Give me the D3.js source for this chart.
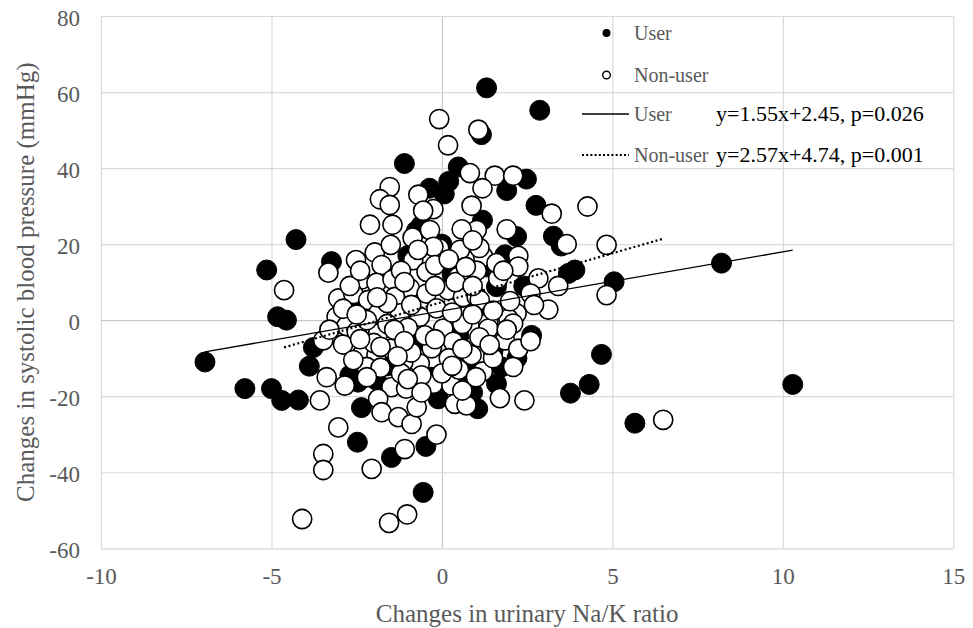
<!DOCTYPE html>
<html>
<head>
<meta charset="utf-8">
<script src="https://cdn.jsdelivr.net/npm/d3@7"></script>
<style>
  body { margin: 0; background: #fff; }
  text { font-family: "Liberation Serif", "Times New Roman", serif; }
</style>
</head>
<body>
<svg></svg>
<script>
// change in Na/K ratio vs change in SBP
var userPoints = [
  [-6.95,-11],[-5.78,-18],[-5.0,-18],[-4.70,-21.1],[-4.21,-21],[-5.14,13.2],[-4.28,21.2],
  [-4.82,0.9],[-4.56,0],[-3.77,-7.2],[-3.89,-12.1],[-3.24,15.4],[-2.4,4.4],[-2.46,-16.3],
  [-1.92,-15.8],[-2.36,-23],[-2.48,-32.1],[-1.48,-36.1],[-0.47,-33.2],[-0.55,-45.3],
  [-0.11,-20.7],[0.77,-16.3],[1.6,-16.7],[1.05,-23.3],[0.72,-11.4],[1.75,-12.3],[2.63,-4],
  [1.6,8.8],[1.85,17.2],[1.19,26.3],[2.19,22],[3.27,22.1],[3.71,12.3],[3.9,13.2],[3.5,19.5],
  [5.05,10.1],[8.2,15],[4.68,-9],[4.32,-16.9],[3.77,-19.2],[5.66,-27.1],[10.29,-16.9],
  [2.76,30.2],[2.48,37.1],[1.9,34.1],[0.48,40.3],[0.2,36.5],[0.07,33.2],[-0.36,34.7],
  [-1.1,41.2],[1.31,61.1],[2.87,55.2],[1.16,48.8],[-0.75,23.5],
  [-1.6,-12],[-0.8,-6],[0.5,-4],[-2.0,-11],[1.0,3],[0.3,12],[-1.0,17],[1.5,-8],[2.2,-10],
  [-2.7,-14.5],[0.9,-19],[-0.3,-15],[-2.9,-1],[0.0,20],[1.3,14],[-0.6,25],[2.4,9],[-1.5,-2]
];

var nonUserPoints = [
  [-0.08,52.9],[0.18,46],[1.07,50.1],[0.82,38.7],[1.55,38],[2.09,38],[1.19,34.7],[-0.69,33],
  [-1.53,35],[-1.82,31.8],[-1.53,30.3],[-0.25,29.2],[-0.55,28.8],[0.87,30.1],[3.22,28],
  [4.27,29.9],[1.9,23.9],[-2.11,25.1],[-1.45,25.1],[1.02,23.7],[0.58,23.9],[-0.86,21.7],
  [-0.35,23.7],[-0.08,18.9],[0.53,18.5],[-2.52,15.8],[-1.97,17.8],[-1.5,19.8],[-3.33,12.5],
  [-4.63,7.9],[3.66,20],[4.83,19.8],[2.24,16.9],[2.24,14.1],[1.21,16.7],[1.65,11],[1.02,13],
  [0.48,11.4],[2.83,11],[3.41,9],[3.12,2.8],[4.83,6.6],[-0.84,15.8],[-1.77,14.5],[-2.36,10.7],
  [-1.92,9.8],[-1.45,10.7],[-0.94,8.4],[-0.45,12.7],[-0.25,19.3],[-3.04,5.7],[-2.6,6.9],
  [-2.16,5.3],[-1.38,6.1],[-0.45,7],[-3.09,0.9],[-1.87,1.8],[-0.65,0.9],[-0.16,3.1],[0.18,7.9],
  [0.62,6.1],[1.02,6.1],[1.11,5.3],[2.19,1.8],[1.95,0.4],[1.36,-0.7],[2.09,-0.9],[1.36,-2.2],
  [0.04,-2.2],[-1.23,1.8],[-1.87,-3.5],[-1.23,-4],[-3.48,-5.3],[-2.9,-6.4],[-2.36,-9.2],
  [-1.92,-9.2],[-0.65,-11.4],[-0.3,-7.4],[0.33,-5.7],[0.87,-9.2],[1.85,-5.3],[2.24,-7.5],
  [2.09,-12.3],[-3.38,-15],[-2.85,-17.2],[-1.48,-17.6],[-1.05,-18],[-0.25,-16.7],[0.28,-17.2],
  [1.7,-20.5],[2.42,-21.1],[-3.58,-21.1],[-1.87,-20.7],[-1.77,-24.2],[-1.28,-25.5],[-0.89,-27.3],
  [-0.74,-22.9],[0.38,-22],[0.72,-22.4],[-3.04,-28.2],[-3.48,-35.2],[-3.48,-39.4],[-2.06,-39.1],
  [-1.09,-33.9],[-0.16,-30.1],[-1.55,-53.3],[-1.02,-51.1],[-4.1,-52.3],[6.49,-26.2],[-1.13,-11],
  [-2.21,-12.3],
  [-2.8,-1.5],[-2.5,-3],[-2.2,0],[-1.6,-1],[-1.0,-2],[-0.5,-4],[0.6,-1],[0.9,1.5],[1.5,2.5],
  [0.3,2],[-0.9,4],[-1.6,4.5],[-2.0,-6],[-1.5,-7.5],[-0.9,-8.5],[0.2,-10],[0.5,-13],[1.2,-13.5],
  [1.5,-10],[-1.2,-14],[-0.6,-14.5],[-1.8,-12.5],[0.0,-14],[0.4,10],[0.9,9],[-0.2,14.5],[1.6,15],
  [0.2,16],[-1.2,13],[2.0,5],[2.6,7],[1.1,19],[-2.7,9],[-0.6,-19],[0.6,-18.5],[1.1,-4.5],
  [-2.6,-10.5],[-1.4,-2.5],
  [-2.4,-5],[-1.8,-7],[-1.1,-5.5],[-0.2,-5],[0.6,-7.5],[1.4,-6.5],[1.9,-2.5],[-2.9,3],
  [-2.5,1.5],[-1.9,6],[-1.1,10],[-0.2,9],[0.7,14],[1.8,13],[2.7,4],[-2.2,-15],[-1.0,-15.5],
  [0.3,-12],[1.0,-15],[-2.4,13],[-0.7,18.5],[0.9,21],[-3.3,-2.5],[-1.3,-9.5],[2.6,-5.5]
];

// regression y = slope*x + intercept
var fitNames = ["User", "Non-user"];
var fitSlopes = [1.55, 2.57];
var fitIntercepts = [2.45, 4.74];
var fitLabels = ["y=1.55x+2.45, p=0.026", "y=2.57x+4.74, p=0.001"];

var xTicks = [-10, -5, 0, 5, 10, 15];
var yTicks = [-60, -40, -20, 0, 20, 40, 60, 80];

var width = 973;
var height = 628;
var plotLeft = 101, plotRight = 953.3, plotTop = 16, plotBottom = 548.3;
var grey = "#595959";

var svg = d3.select("svg")
            .attr("width", width)
            .attr("height", height);

var x = d3.scaleLinear().domain([-10, 15]).range([plotLeft, plotRight]);
var y = d3.scaleLinear().domain([-60, 80]).range([plotBottom, plotTop]);

// grid + tick labels
var gx = svg.append("g")
    .attr("transform", "translate(0," + plotBottom + ")")
    .call(d3.axisBottom(x).tickValues(xTicks).tickSize(-(plotBottom - plotTop)).tickPadding(18).tickFormat(d => String(d)));
var gy = svg.append("g")
    .attr("transform", "translate(" + plotLeft + ",0)")
    .call(d3.axisLeft(y).tickValues(yTicks).tickSize(-(plotRight - plotLeft)).tickPadding(21).tickFormat(d => String(d)));

[gx, gy].forEach(function(g) {
    g.select(".domain").remove();
    g.selectAll("line").attr("stroke", "#d9d9d9").attr("stroke-width", 1.2);
    g.selectAll("text")
        .attr("fill", grey)
        .style("font-size", "23px")
        .style("font-family", "'Liberation Serif', serif");
});
gx.selectAll("text").attr("dy", "0.78em");
gy.selectAll("text").attr("dy", "0.4em");
gx.selectAll(".tick").filter(d => d === 0).select("line").attr("stroke", "#c8c8c8");
gy.selectAll(".tick").filter(d => d === 0).select("line").attr("stroke", "#c8c8c8");

// points: users first, non-users on top
var marks = svg.append("g");
marks.selectAll(".user")
    .data(userPoints)
    .enter().append("circle")
        .attr("class", "user")
        .attr("cx", d => x(d[0]))
        .attr("cy", d => y(d[1]))
        .attr("r", 10)
        .attr("fill", "#000")
        .attr("stroke", "#000")
        .attr("stroke-width", 1);

marks.selectAll(".nonuser")
    .data(nonUserPoints)
    .enter().append("circle")
        .attr("class", "nonuser")
        .attr("cx", d => x(d[0]))
        .attr("cy", d => y(d[1]))
        .attr("r", 9.6)
        .attr("fill", "#fff")
        .attr("stroke", "#000")
        .attr("stroke-width", 1.6);

// fit lines over each group's x range
var groups = [userPoints, nonUserPoints];
var dashes = [null, "2,2.6"];
var widths = [1.3, 2.2];
groups.forEach(function(pts, i) {
    var ext = d3.extent(pts, d => d[0]);
    var line = d3.line()
        .x(d => x(d))
        .y(d => y(fitSlopes[i] * d + fitIntercepts[i]));
    svg.append("path")
        .attr("d", line(ext))
        .attr("fill", "none")
        .attr("stroke", "#000")
        .attr("stroke-width", widths[i])
        .attr("stroke-dasharray", dashes[i]);
});

// legend
var lg = svg.append("g");
lg.append("circle").attr("cx", 606.5).attr("cy", 33).attr("r", 4).attr("fill", "#000");
lg.append("circle").attr("cx", 606.5).attr("cy", 75).attr("r", 3.8)
    .attr("fill", "#fff").attr("stroke", "#000").attr("stroke-width", 1.4);
var legendRows = [33, 75];
fitNames.forEach(function(name, i) {
    lg.append("text")
        .attr("x", 634).attr("y", legendRows[i]).attr("dy", "0.35em")
        .attr("fill", grey).style("font-size", "20px")
        .text(name);
});
var lineRows = [114, 155];
fitNames.forEach(function(name, i) {
    lg.append("line")
        .attr("x1", 582).attr("x2", 629)
        .attr("y1", lineRows[i]).attr("y2", lineRows[i])
        .attr("stroke", "#000")
        .attr("stroke-width", i ? 2 : 1.3)
        .attr("stroke-dasharray", i ? "2,2.2" : null);
    lg.append("text")
        .attr("x", 634).attr("y", lineRows[i]).attr("dy", "0.35em")
        .attr("fill", grey).style("font-size", "20px")
        .text(name);
    lg.append("text")
        .attr("x", 716).attr("y", lineRows[i] - 1).attr("dy", "0.35em")
        .attr("fill", "#000").style("font-size", "22px")
        .text(fitLabels[i]);
});

// axis titles
svg.append("text")
    .attr("x", (plotLeft + plotRight) / 2)
    .attr("y", 622)
    .attr("text-anchor", "middle")
    .attr("fill", grey)
    .style("font-size", "25px")
    .text("Changes in urinary Na/K ratio");

svg.append("text")
    .attr("transform", "translate(34," + (plotTop + plotBottom) / 2 + ") rotate(-90)")
    .attr("text-anchor", "middle")
    .attr("fill", grey)
    .style("font-size", "25px")
    .text("Changes in systolic blood pressure (mmHg)");
</script>
</body>
</html>
